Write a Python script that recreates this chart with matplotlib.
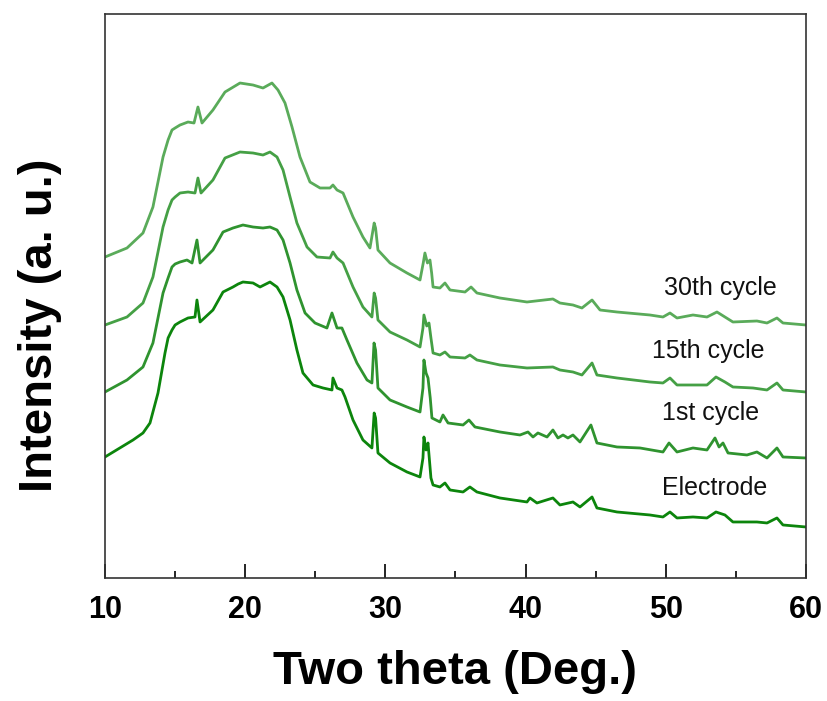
import matplotlib
matplotlib.use('Agg')
import matplotlib.pyplot as plt
from matplotlib.ticker import MultipleLocator

plt.rcParams['font.family'] = ['Liberation Sans', 'DejaVu Sans']

# XRD patterns (two theta in deg, intensity in a.u.)
elec_x = [10.0, 12.0, 12.71, 13.21, 13.78, 14.28, 14.5, 14.78, 15.0, 15.35, 15.92, 16.42, 16.56,
          16.78, 17.70, 18.42, 19.13, 19.5, 19.84, 20.56, 21.06, 21.77, 22.27, 22.70, 23.20,
          23.69, 24.12, 24.84, 25.55, 26.19, 26.26, 26.55, 26.90, 27.12, 27.69, 28.40, 29.04,
          29.20, 29.30, 29.47, 30.33, 31.54, 32.47, 32.68, 32.75, 32.90, 33.04, 33.25, 33.40,
          33.89, 34.25, 34.61, 35.54, 36.03, 36.53, 38.17, 40.10, 40.31, 40.81, 41.95, 42.45,
          43.38, 43.88, 44.74, 45.09, 46.52, 48.87, 49.80, 50.30, 50.80, 51.94, 52.94, 53.58,
          54.22, 54.79, 56.50, 57.22, 57.93, 58.36, 60.0]
elec_y = [12.1, 13.8, 14.5, 15.5, 18.5, 22.5, 24.0, 24.8, 25.3, 25.6, 26.0, 26.1, 27.8,
          25.6, 26.8, 28.6, 29.1, 29.4, 29.6, 29.5, 29.1, 29.6, 29.1, 28.1, 25.8,
          22.8, 20.5, 19.3, 19.0, 18.8, 20.0, 19.0, 18.8, 18.1, 15.8, 13.8, 13.0,
          16.5, 16.0, 12.5, 11.5, 10.6, 10.1, 12.0, 14.1, 12.8, 13.5, 10.0, 9.3,
          9.1, 9.5, 8.8, 8.6, 9.1, 8.6, 8.0, 7.6, 8.0, 7.5, 8.0, 7.3,
          7.6, 7.1, 8.1, 7.0, 6.6, 6.3, 6.1, 6.6, 6.0, 6.1, 6.0, 6.6,
          6.3, 5.6, 5.6, 5.5, 6.0, 5.3, 5.1]

c1_x = [10.0, 11.57, 12.71, 13.42, 13.78, 14.14, 14.5, 14.78, 15.0, 15.35, 15.85, 16.21, 16.56,
        16.78, 17.70, 18.42, 19.13, 19.84, 20.56, 21.27, 21.77, 22.27, 22.70, 23.20, 23.69,
        24.27, 24.98, 25.83, 26.19, 26.55, 26.90, 27.26, 27.97, 28.69, 29.04, 29.19, 29.30,
        29.47, 30.33, 31.54, 32.47, 32.68, 32.75, 32.90, 33.04, 33.20, 33.32, 33.89, 34.11,
        34.47, 35.54, 35.96, 36.39, 38.17, 39.60, 40.17, 40.53, 40.88, 41.53, 41.95, 42.31,
        42.67, 43.02, 43.38, 43.88, 44.66, 45.09, 46.52, 48.16, 49.80, 50.23, 50.80, 51.94,
        52.94, 53.51, 53.80, 54.08, 54.44, 55.79, 56.50, 57.22, 57.93, 58.36, 60.0]
c1_y = [18.6, 19.8, 21.1, 23.5, 26.0, 28.5, 30.0, 31.1, 31.4, 31.6, 31.8, 31.5, 33.8,
        31.5, 32.8, 34.6, 35.0, 35.3, 35.1, 35.0, 35.1, 34.8, 33.8, 31.5, 28.8,
        26.5, 25.5, 25.0, 26.5, 25.0, 25.0, 23.8, 21.5, 19.8, 19.5, 23.5, 22.8,
        19.0, 17.8, 17.1, 16.6, 19.0, 21.8, 20.5, 20.0, 18.0, 16.0, 15.6, 16.3,
        15.5, 15.3, 15.8, 15.1, 14.6, 14.3, 14.6, 14.1, 14.5, 14.1, 14.8, 14.0,
        14.3, 14.0, 14.3, 13.6, 15.3, 13.5, 13.1, 13.0, 12.6, 13.5, 12.6, 13.0,
        12.8, 14.0, 13.1, 13.5, 12.5, 12.3, 12.6, 12.0, 13.0, 12.1, 12.0]

c15_x = [10.0, 11.57, 12.71, 13.42, 13.78, 14.14, 14.5, 14.78, 15.0, 15.35, 15.92, 16.42, 16.63,
         16.85, 17.70, 18.56, 19.63, 20.56, 21.27, 21.77, 22.27, 22.70, 23.20, 23.69, 24.41,
         25.12, 26.05, 26.26, 26.55, 26.98, 27.69, 28.40, 29.04, 29.20, 29.30, 29.47, 30.33,
         31.54, 32.47, 32.68, 32.75, 32.95, 33.11, 33.25, 33.40, 33.89, 34.25, 34.61, 35.68,
         36.03, 36.53, 38.17, 40.10, 41.95, 42.45, 43.38, 44.02, 44.74, 45.09, 46.52, 48.87,
         49.80, 50.30, 50.80, 52.94, 53.58, 54.22, 54.79, 56.22, 57.22, 57.93, 58.36, 60.0]
c15_y = [25.3, 26.1, 27.5, 30.1, 32.6, 35.1, 36.8, 37.8, 38.1, 38.5, 38.6, 38.5, 40.0,
         38.5, 39.8, 42.0, 42.6, 42.5, 42.3, 42.6, 42.1, 40.8, 38.1, 35.5, 33.1,
         32.1, 32.0, 32.6, 32.0, 31.5, 29.1, 27.1, 26.1, 28.5, 28.0, 25.8, 24.6,
         23.8, 23.1, 25.0, 26.3, 25.2, 25.5, 24.0, 22.5, 22.3, 22.6, 22.1, 22.0,
         22.3, 21.8, 21.3, 21.0, 21.1, 20.8, 20.6, 20.3, 21.5, 20.3, 20.0, 19.6,
         19.5, 20.0, 19.3, 19.3, 20.1, 19.6, 19.1, 19.0, 18.8, 19.5, 18.8, 18.6]

c30_x = [10.0, 11.57, 12.71, 13.42, 13.78, 14.14, 14.5, 14.78, 15.0, 15.35, 15.92, 16.35, 16.63,
         16.92, 17.70, 18.56, 19.63, 20.56, 21.27, 21.91, 22.34, 22.84, 23.34, 23.91, 24.62,
         25.34, 26.05, 26.26, 26.55, 26.98, 27.69, 28.40, 28.90, 29.20, 29.30, 29.47, 30.33,
         31.54, 32.47, 32.70, 32.82, 33.00, 33.18, 33.30, 33.40, 33.89, 34.25, 34.61, 35.68,
         36.11, 36.53, 38.17, 40.10, 41.95, 42.45, 43.38, 44.02, 44.74, 45.31, 46.52, 48.87,
         49.80, 50.30, 50.80, 51.94, 52.94, 53.65, 54.22, 54.79, 56.50, 57.22, 57.93, 58.36, 60.0]
c30_y = [32.1, 33.0, 34.5, 37.1, 39.6, 42.1, 43.8, 44.8, 45.0, 45.3, 45.6, 45.5, 47.1,
         45.5, 46.8, 48.6, 49.5, 49.3, 49.0, 49.5, 48.8, 47.5, 45.1, 42.1, 39.6,
         39.0, 39.0, 39.3, 38.8, 38.5, 36.1, 34.1, 33.0, 35.5, 35.0, 32.8, 31.5,
         30.5, 29.8, 31.5, 32.5, 31.5, 31.8, 30.5, 29.1, 29.0, 29.5, 28.8, 28.6,
         29.1, 28.5, 28.0, 27.6, 27.9, 27.5, 27.3, 27.0, 27.8, 26.8, 26.6, 26.3,
         26.1, 26.5, 26.0, 26.3, 26.1, 26.6, 26.1, 25.6, 25.7, 25.5, 26.0, 25.5, 25.3]

labels = ['Electrode', '1st cycle', '15th cycle', '30th cycle']
colors = ['#0c850c', '#2f932f', '#45a045', '#5aab5a']
label_x = [53.5, 53.2, 53.0, 53.9]
label_y = [9.0, 16.5, 22.7, 29.0]

fig = plt.figure(figsize=(8.28, 7.01), dpi=100)
ax = fig.add_axes([0.1268, 0.1755, 0.8466, 0.8045])

for xs, ys, c in zip([elec_x, c1_x, c15_x, c30_x], [elec_y, c1_y, c15_y, c30_y], colors):
    ax.plot(xs, ys, color=c, lw=2.0)

for t, lx, ly in zip(labels, label_x, label_y):
    ax.text(lx, ly, t, fontsize=18, ha='center', va='center', color='#111111')

ax.set_xlim(10, 60)
ax.set_ylim(0, 56.4)
ax.xaxis.set_major_locator(MultipleLocator(10))
ax.xaxis.set_minor_locator(MultipleLocator(5))
ax.set_yticks([])
ax.tick_params(axis='x', which='major', direction='in', length=10, width=1.2,
               labelsize=22, pad=12)
ax.tick_params(axis='x', which='minor', direction='in', length=5, width=1.2)
for lab in ax.get_xticklabels():
    lab.set_fontweight('bold')
for s in ax.spines.values():
    s.set_linewidth(1.2)
    s.set_color('#333333')

ax.set_xlabel('Two theta (Deg.)', fontsize=34, fontweight='bold', labelpad=18)
ax.set_ylabel('Intensity (a. u.)', fontsize=34, fontweight='bold')
ax.yaxis.set_label_coords(-0.061, 0.449)

fig.savefig('out.png', dpi=100)
